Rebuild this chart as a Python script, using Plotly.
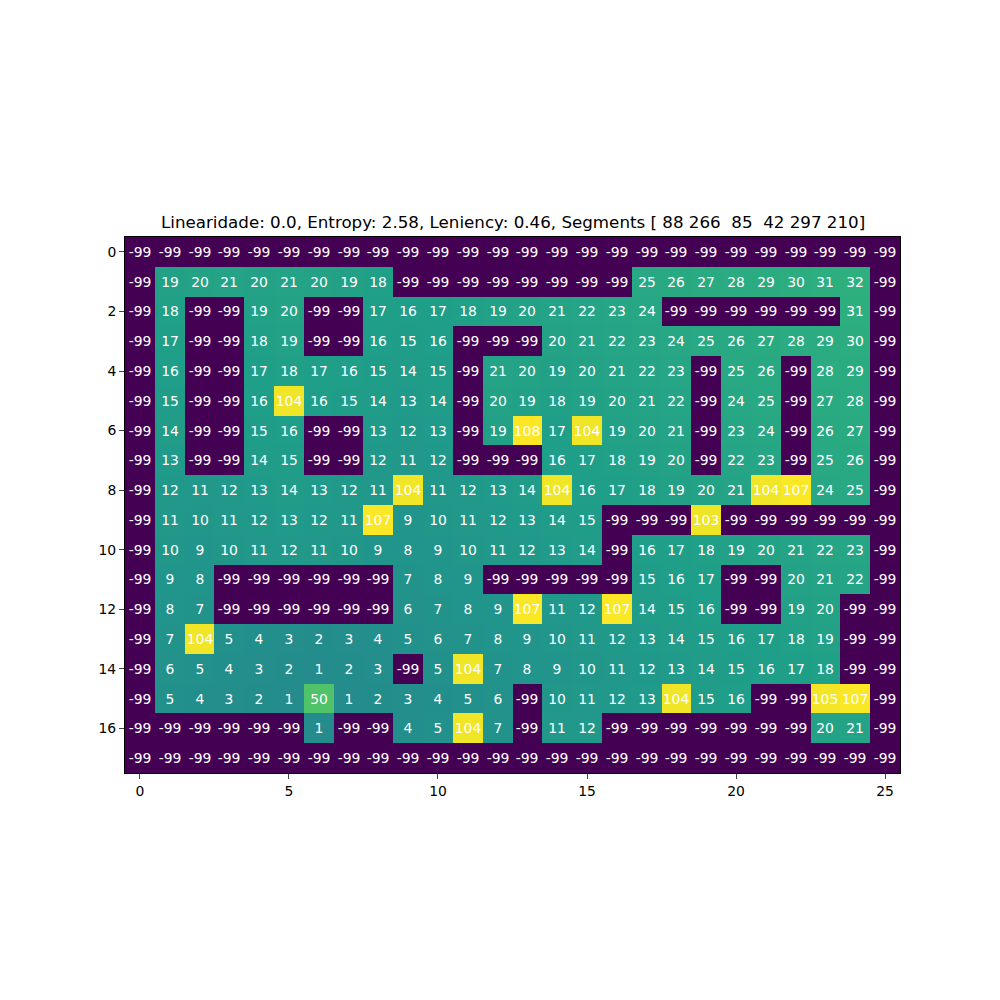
import plotly.graph_objects as go

W = -99
grid = [
    [W]*26,
    [W, 19, 20, 21, 20, 21, 20, 19, 18, W, W, W, W, W, W, W, W, 25, 26, 27, 28, 29, 30, 31, 32, W],
    [W, 18, W, W, 19, 20, W, W, 17, 16, 17, 18, 19, 20, 21, 22, 23, 24, W, W, W, W, W, W, 31, W],
    [W, 17, W, W, 18, 19, W, W, 16, 15, 16, W, W, W, 20, 21, 22, 23, 24, 25, 26, 27, 28, 29, 30, W],
    [W, 16, W, W, 17, 18, 17, 16, 15, 14, 15, W, 21, 20, 19, 20, 21, 22, 23, W, 25, 26, W, 28, 29, W],
    [W, 15, W, W, 16, 104, 16, 15, 14, 13, 14, W, 20, 19, 18, 19, 20, 21, 22, W, 24, 25, W, 27, 28, W],
    [W, 14, W, W, 15, 16, W, W, 13, 12, 13, W, 19, 108, 17, 104, 19, 20, 21, W, 23, 24, W, 26, 27, W],
    [W, 13, W, W, 14, 15, W, W, 12, 11, 12, W, W, W, 16, 17, 18, 19, 20, W, 22, 23, W, 25, 26, W],
    [W, 12, 11, 12, 13, 14, 13, 12, 11, 104, 11, 12, 13, 14, 104, 16, 17, 18, 19, 20, 21, 104, 107, 24, 25, W],
    [W, 11, 10, 11, 12, 13, 12, 11, 107, 9, 10, 11, 12, 13, 14, 15, W, W, W, 103, W, W, W, W, W, W],
    [W, 10, 9, 10, 11, 12, 11, 10, 9, 8, 9, 10, 11, 12, 13, 14, W, 16, 17, 18, 19, 20, 21, 22, 23, W],
    [W, 9, 8, W, W, W, W, W, W, 7, 8, 9, W, W, W, W, W, 15, 16, 17, W, W, 20, 21, 22, W],
    [W, 8, 7, W, W, W, W, W, W, 6, 7, 8, 9, 107, 11, 12, 107, 14, 15, 16, W, W, 19, 20, W, W],
    [W, 7, 104, 5, 4, 3, 2, 3, 4, 5, 6, 7, 8, 9, 10, 11, 12, 13, 14, 15, 16, 17, 18, 19, W, W],
    [W, 6, 5, 4, 3, 2, 1, 2, 3, W, 5, 104, 7, 8, 9, 10, 11, 12, 13, 14, 15, 16, 17, 18, W, W],
    [W, 5, 4, 3, 2, 1, 50, 1, 2, 3, 4, 5, 6, W, 10, 11, 12, 13, 104, 15, 16, W, W, 105, 107, W],
    [W, W, W, W, W, W, 1, W, W, 4, 5, 104, 7, W, 11, 12, W, W, W, W, W, W, W, 20, 21, W],
    [W]*26,
]
title = "Linearidade: 0.0, Entropy: 2.58, Leniency: 0.46, Segments [ 88 266  85  42 297 210]"
xticks = [0, 5, 10, 15, 20, 25]
yticks = [0, 2, 4, 6, 8, 10, 12, 14, 16]

labels = [[str(v) for v in row] for row in grid]

fig = go.Figure(go.Heatmap(
    z=grid,
    text=labels,
    colorscale="Viridis",
    zmin=min(min(r) for r in grid),
    zmax=max(max(r) for r in grid),
    showscale=False,
    texttemplate="%{text}",
    textfont=dict(color="white", size=13.9, family="DejaVu Sans"),
    hoverinfo="z",
))

fig.update_layout(
    width=1000, height=1000,
    margin=dict(l=125, r=100, t=237, b=227),
    plot_bgcolor="white", paper_bgcolor="white",
    font=dict(family="DejaVu Sans", color="black", size=14),
    xaxis=dict(range=[-0.5, 25.5], tickvals=xticks, ticks="outside", ticklen=5,
               showline=True, mirror=True, linecolor="black", linewidth=1,
               showgrid=False, zeroline=False, tickfont=dict(size=13.9)),
    yaxis=dict(range=[17.5, -0.5], tickvals=yticks, ticks="outside", ticklen=5,
               showline=True, mirror=True, linecolor="black", linewidth=1,
               showgrid=False, zeroline=False, tickfont=dict(size=13.9)),
    annotations=[dict(text=title, xref="paper", yref="paper", x=0.5, y=1,
                      xanchor="center", yanchor="bottom", yshift=3, showarrow=False,
                      font=dict(size=16.7, color="black", family="DejaVu Sans"))],
)
fig.write_html("out.html")
